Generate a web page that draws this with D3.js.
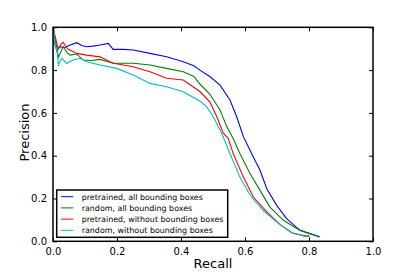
<!DOCTYPE html>
<html>
<head>
<meta charset="utf-8">
<script src="https://cdn.jsdelivr.net/npm/d3@7"></script>
<style>
  body { margin: 0; background: #fff; }
  svg { display: block; font-family: "DejaVu Sans", sans-serif; }
</style>
</head>
<body>
<div id="chart"></div>
<script>
"use strict";

// recall / precision
const blueRecall    = [0.0, 0.006, 0.012, 0.022, 0.035, 0.05, 0.074, 0.09, 0.105, 0.125, 0.147, 0.173, 0.188, 0.22, 0.251, 0.303, 0.355, 0.407, 0.44, 0.459, 0.49, 0.522, 0.553, 0.574, 0.595, 0.626, 0.647, 0.668, 0.699, 0.73, 0.772, 0.834];
const bluePrecision = [1.0, 0.92, 0.89, 0.909, 0.905, 0.915, 0.928, 0.915, 0.909, 0.912, 0.917, 0.925, 0.897, 0.897, 0.894, 0.878, 0.862, 0.839, 0.82, 0.80, 0.77, 0.73, 0.66, 0.582, 0.489, 0.394, 0.332, 0.246, 0.168, 0.106, 0.051, 0.02];

const greenRecall    = [0.0, 0.006, 0.017, 0.032, 0.045, 0.053, 0.074, 0.095, 0.12, 0.147, 0.188, 0.251, 0.303, 0.355, 0.407, 0.44, 0.459, 0.49, 0.522, 0.543, 0.563, 0.584, 0.616, 0.647, 0.678, 0.72, 0.772, 0.829];
const greenPrecision = [1.0, 0.95, 0.86, 0.91, 0.88, 0.87, 0.875, 0.847, 0.845, 0.85, 0.832, 0.832, 0.824, 0.808, 0.792, 0.77, 0.735, 0.688, 0.614, 0.536, 0.48, 0.41, 0.316, 0.238, 0.16, 0.098, 0.051, 0.023];

const redRecall    = [0.0, 0.008, 0.016, 0.025, 0.032, 0.045, 0.053, 0.074, 0.105, 0.147, 0.188, 0.251, 0.303, 0.355, 0.407, 0.459, 0.49, 0.512, 0.532, 0.548, 0.563, 0.595, 0.626, 0.668, 0.709, 0.751, 0.798, 0.8];
const redPrecision = [1.0, 0.95, 0.90, 0.92, 0.93, 0.90, 0.894, 0.878, 0.87, 0.862, 0.832, 0.816, 0.792, 0.762, 0.754, 0.70, 0.652, 0.582, 0.505, 0.48, 0.41, 0.30, 0.207, 0.137, 0.079, 0.036, 0.023, 0.03];

const cyanRecall    = [0.0, 0.002, 0.006, 0.012, 0.017, 0.027, 0.043, 0.063, 0.084, 0.105, 0.147, 0.199, 0.251, 0.303, 0.355, 0.407, 0.459, 0.48, 0.501, 0.522, 0.534, 0.553, 0.584, 0.616, 0.657, 0.699, 0.741, 0.793];
const cyanPrecision = [0.63, 1.0, 0.92, 0.894, 0.824, 0.855, 0.832, 0.847, 0.855, 0.839, 0.824, 0.808, 0.777, 0.738, 0.722, 0.699, 0.656, 0.629, 0.582, 0.52, 0.48, 0.41, 0.30, 0.215, 0.145, 0.09, 0.043, 0.02];

const seriesNames  = ["pretrained, all bounding boxes", "random, all bounding boxes", "pretrained, without bounding boxes", "random, without bounding boxes"];
const seriesColors = ["#0000ff", "#008000", "#ff0000", "#00bfbf"];
const ticks = [0, 0.2, 0.4, 0.6, 0.8, 1.0];

const series = [
  { name: seriesNames[0], color: seriesColors[0], recall: blueRecall, precision: bluePrecision },
  { name: seriesNames[1], color: seriesColors[1], recall: greenRecall, precision: greenPrecision },
  { name: seriesNames[2], color: seriesColors[2], recall: redRecall, precision: redPrecision },
  { name: seriesNames[3], color: seriesColors[3], recall: cyanRecall, precision: cyanPrecision }
];

const width = 415, height = 277;
const margin = { top: 27.3, right: 42, bottom: 35.7, left: 53 };
const innerW = width - margin.left - margin.right;
const innerH = height - margin.top - margin.bottom;

const svg = d3.select("#chart").append("svg")
    .attr("width", width)
    .attr("height", height);

const g = svg.append("g")
    .attr("transform", `translate(${margin.left},${margin.top})`);

const x = d3.scaleLinear().domain([0, 1]).range([0, innerW]);
const y = d3.scaleLinear().domain([0, 1]).range([innerH, 0]);

const line = d3.line()
    .x(d => x(d[0]))
    .y(d => y(d[1]));

g.append("defs").append("clipPath").attr("id", "clip")
  .append("rect").attr("width", innerW).attr("height", innerH);

const lines = g.append("g").attr("clip-path", "url(#clip)");
series.forEach(s => {
  lines.append("path")
      .datum(d3.zip(s.recall, s.precision))
      .attr("fill", "none")
      .attr("stroke", s.color)
      .attr("stroke-width", 1.1)
      .attr("d", line);
});

// axes, ticks pointing in
const fmt = d3.format(".1f");
const xb = g.append("g").attr("transform", `translate(0,${innerH})`)
    .call(d3.axisBottom(x).tickValues(ticks).tickFormat(fmt).tickSizeInner(-4).tickSizeOuter(0).tickPadding(7));
const xt = g.append("g")
    .call(d3.axisTop(x).tickValues(ticks).tickFormat("").tickSizeInner(-4).tickSizeOuter(0));
const yl = g.append("g")
    .call(d3.axisLeft(y).tickValues(ticks).tickFormat(fmt).tickSizeInner(-4).tickSizeOuter(0).tickPadding(6));
const yr = g.append("g").attr("transform", `translate(${innerW},0)`)
    .call(d3.axisRight(y).tickValues(ticks).tickFormat("").tickSizeInner(-4).tickSizeOuter(0));

[xb, xt, yl, yr].forEach(a => {
  a.select(".domain").remove();
  a.selectAll(".tick line").attr("stroke", "#000").attr("stroke-width", 1);
  a.selectAll(".tick text").attr("fill", "#000").style("font-size", "10px").style("font-family", "DejaVu Sans");
});

g.append("rect")
    .attr("width", innerW)
    .attr("height", innerH)
    .attr("fill", "none")
    .attr("stroke", "#000")
    .attr("stroke-width", 1.5);

svg.append("text")
    .attr("x", margin.left + innerW / 2)
    .attr("y", 268)
    .attr("text-anchor", "middle")
    .style("font-size", "13px")
    .text("Recall");

svg.append("text")
    .attr("transform", "translate(29,132.5) rotate(-90)")
    .attr("text-anchor", "middle")
    .style("font-size", "13px")
    .text("Precision");

// legend
const legend = g.append("g").attr("transform", `translate(3.7,${innerH - 51.3})`);
legend.append("rect")
    .attr("width", 171)
    .attr("height", 47.3)
    .attr("fill", "#fff")
    .attr("stroke", "#000")
    .attr("stroke-width", 1.5);

const labels = [];
series.forEach((s, i) => {
  const yy = 6.7 + i * 11.2;
  legend.append("line")
      .attr("x1", 4.3).attr("x2", 16.6)
      .attr("y1", yy).attr("y2", yy)
      .attr("stroke", s.color)
      .attr("stroke-width", 1);
  labels.push(legend.append("text")
      .attr("x", 25)
      .attr("y", yy + 3)
      .style("font-size", "8px")
      .text(s.name));
});

// longest label should be about 142px wide, as in the picture
const longest = d3.max(labels, t => t.node().getComputedTextLength());
const fs = 8 * 142 / longest;
labels.forEach(t => t.style("font-size", fs + "px"));
</script>
</body>
</html>
